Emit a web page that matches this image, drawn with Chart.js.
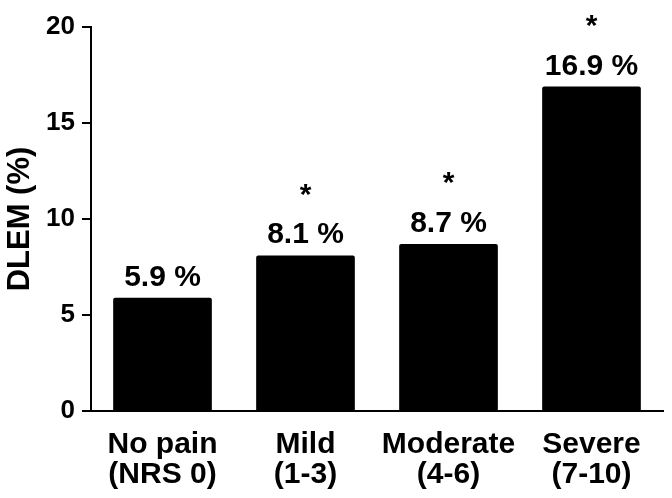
<!DOCTYPE html>
<html>
<head>
<meta charset="utf-8">
<title>DLEM by pain</title>
<script src="https://cdn.jsdelivr.net/npm/chart.js@4.4.1/dist/chart.umd.min.js"></script>
<style>
  body { margin: 0; background: #fff; }
</style>
</head>
<body>
<canvas id="chart" width="672" height="498"></canvas>
<script>
// data
var categories = [['No pain', '(NRS 0)'], ['Mild', '(1-3)'], ['Moderate', '(4-6)'], ['Severe', '(7-10)']];
var dlem = [5.9, 8.1, 8.7, 16.9];
var signif = ['', '*', '*', '*'];
var yTicks = [0, 5, 10, 15, 20];

var FONT = "'Liberation Sans', Arial, sans-serif";

// value labels + asterisks above the bars
var barLabels = {
    id: 'barLabels',
    afterDatasetsDraw: function (chart) {
        var ctx = chart.ctx;
        var meta = chart.getDatasetMeta(0);
        ctx.save();
        ctx.fillStyle = '#000';
        ctx.textAlign = 'center';
        ctx.textBaseline = 'alphabetic';
        meta.data.forEach(function (bar, i) {
            ctx.font = 'bold 30px ' + FONT;
            ctx.fillText(dlem[i].toFixed(1) + ' %', bar.x, bar.y - 12);
            if (signif[i]) {
                ctx.font = 'bold 30px ' + FONT;
                ctx.textBaseline = 'middle';
                ctx.fillText(signif[i], bar.x, bar.y - 60);
                ctx.textBaseline = 'alphabetic';
            }
        });
        ctx.restore();
    }
};

var ctx = document.getElementById('chart').getContext('2d');
var chart = new Chart(ctx, {
    type: 'bar',
    data: {
        labels: categories,
        datasets: [{
            data: dlem,
            backgroundColor: '#000',
            borderWidth: 0,
            borderRadius: 2,
            barPercentage: 0.69,
            categoryPercentage: 1
        }]
    },
    options: {
        responsive: false,
        animation: false,
        layout: { padding: { left: 0, right: 9, top: 27, bottom: 0 } },
        plugins: {
            legend: { display: false },
            tooltip: { enabled: false }
        },
        scales: {
            x: {
                offset: true,
                grid: { display: false },
                border: { display: true, color: '#000', width: 2 },
                ticks: {
                    color: '#000',
                    padding: 11,
                    maxRotation: 0,
                    font: { family: FONT, size: 30, weight: 'bold', lineHeight: 1.0 }
                },
                afterFit: function (scale) { scale.height = 87; }
            },
            y: {
                min: 0,
                max: 20,
                afterBuildTicks: function (scale) {
                    scale.ticks = yTicks.map(function (v) { return { value: v }; });
                },
                grid: {
                    display: true,
                    drawOnChartArea: false,
                    drawTicks: true,
                    tickLength: 9,
                    color: '#000',
                    lineWidth: 2
                },
                border: { display: true, color: '#000', width: 2 },
                ticks: {
                    color: '#000',
                    padding: 7,
                    font: { family: FONT, size: 26, weight: 'bold' }
                },
                title: {
                    display: true,
                    text: 'DLEM (%)',
                    color: '#000',
                    padding: { top: 2, bottom: 0 },
                    font: { family: FONT, size: 31, weight: 'bold' }
                },
                afterFit: function (scale) { scale.width = 91; }
            }
        }
    },
    plugins: [barLabels]
});
</script>
</body>
</html>
